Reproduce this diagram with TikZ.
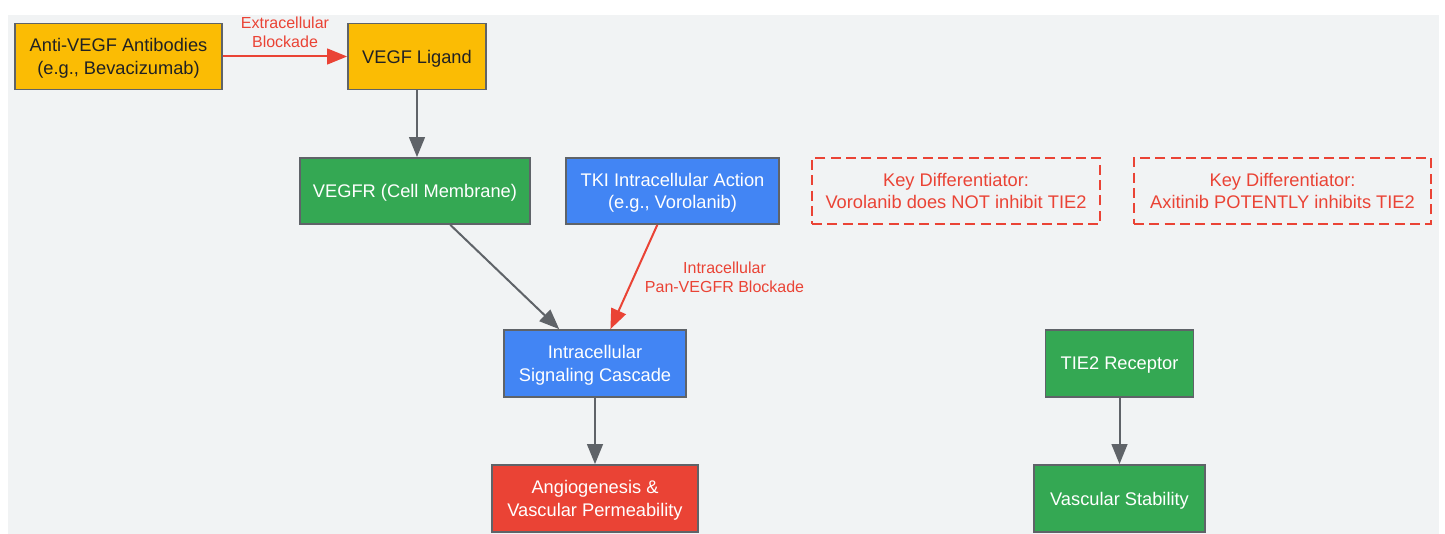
\documentclass[tikz,border=0pt]{standalone}
\usepackage{fontspec}
\setmainfont{Liberation Sans}
\usetikzlibrary{arrows.meta}
\definecolor{bgc}{HTML}{F1F3F4}
\definecolor{gyel}{HTML}{FBBC04}
\definecolor{ggrn}{HTML}{34A853}
\definecolor{gblu}{HTML}{4285F4}
\definecolor{gred}{HTML}{EA4335}
\definecolor{ggry}{HTML}{5F6368}
\definecolor{gtxt}{HTML}{202124}
\tikzset{
  x=0.75pt, y=-0.75pt,
  box/.style={draw=ggry, line width=1.3pt, inner sep=0pt, align=center,
    font=\fontsize{13.7}{17}\selectfont, text=white, text depth=0pt},
  yel/.style={box, fill=gyel, text=gtxt},
  grn/.style={box, fill=ggrn},
  blu/.style={box, fill=gblu},
  rdb/.style={box, fill=gred},
  note/.style={box, draw=gred, dash pattern=on 7.5pt off 4pt, text=gred},
  garrow/.style={draw=ggry, line width=1.5pt, -{Triangle[length=15pt,width=11.8pt]}},
  rarrow/.style={draw=gred, line width=1.5pt, -{Triangle[length=15pt,width=11.8pt]}},
  elabel/.style={text=gred, align=center, font=\fontsize{12}{14}\selectfont, inner sep=0pt},
}
\begin{document}
\begin{tikzpicture}
\useasboundingbox (0,0) rectangle (1445,534);
\fill[white] (0,0) rectangle (1445,534);
\fill[bgc] (8,15) rectangle (1439,534);

\node[yel, minimum width=155.25pt, minimum height=49.5pt] (anti) at (118.5,56.5) {Anti-VEGF Antibodies\\(e.g., Bevacizumab)};
\node[yel, minimum width=103.5pt, minimum height=49.5pt] (lig) at (417,56.5) {VEGF Ligand};
\node[grn, minimum width=172.5pt, minimum height=49.5pt] (vegfr) at (415,191) {VEGFR (Cell Membrane)};
\node[blu, minimum width=159.75pt, minimum height=49.5pt] (tki) at (672.5,191) {TKI Intracellular Action\\(e.g., Vorolanib)};
\node[note, minimum width=216pt, minimum height=49.5pt] (kd1) at (956,191) {Key Differentiator:\\Vorolanib does NOT inhibit TIE2};
\node[note, minimum width=222.75pt, minimum height=49.5pt] (kd2) at (1282.5,191) {Key Differentiator:\\Axitinib POTENTLY inhibits TIE2};
\node[blu, minimum width=136.5pt, minimum height=50.25pt] (casc) at (595,363.5) {Intracellular\\Signaling Cascade};
\node[grn, minimum width=111pt, minimum height=50.25pt] (tie2) at (1119.5,363.5) {TIE2 Receptor};
\node[rdb, minimum width=154.5pt, minimum height=50.25pt] (angio) at (595,498.5) {Angiogenesis \&\\Vascular Permeability};
\node[grn, minimum width=128.25pt, minimum height=50.25pt] (stab) at (1119.5,498.5) {Vascular Stability};

\draw[rarrow] (anti) -- node[elabel, midway, yshift=18pt] {Extracellular\\Blockade} (lig);
\draw[garrow] (lig.south) -- (lig.south |- vegfr.north);
\draw[garrow] (vegfr) -- (casc);
\draw[rarrow] (tki) -- node[elabel, midway, xshift=68pt] {Intracellular\\Pan-VEGFR Blockade} (casc);
\draw[garrow] (casc) -- (angio);
\draw[garrow] (tie2) -- (stab);
\end{tikzpicture}
\end{document}
